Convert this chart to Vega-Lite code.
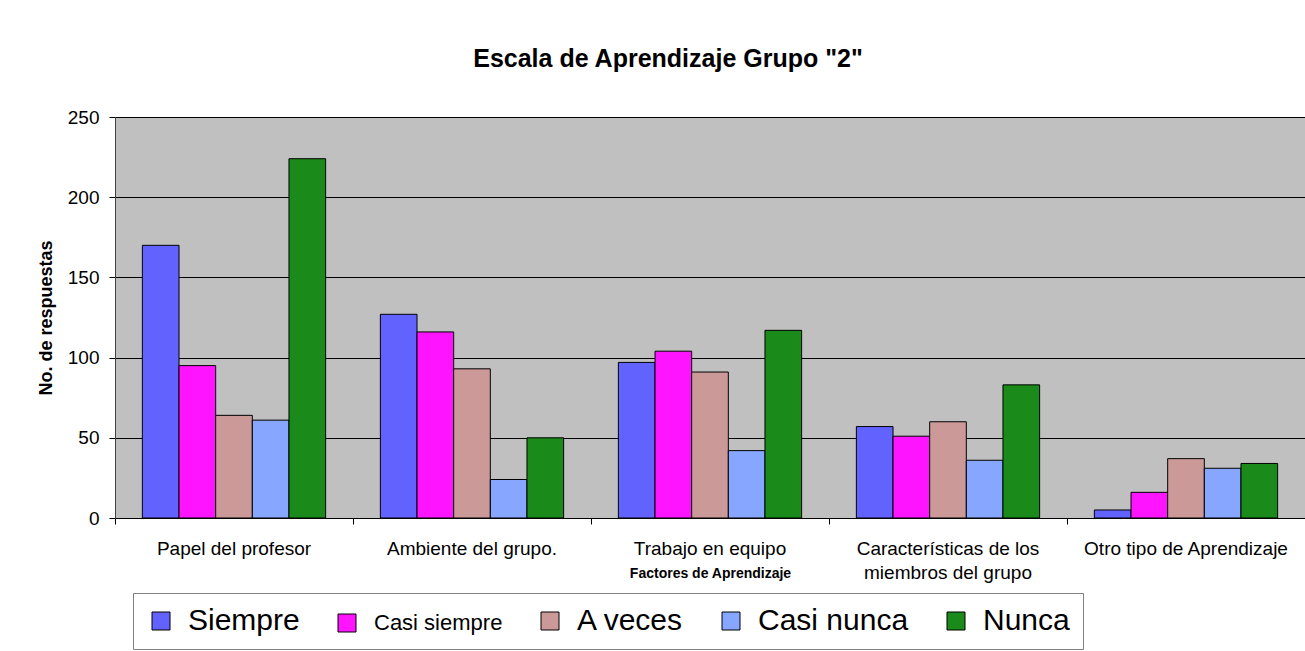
{
  "$schema": "https://vega.github.io/schema/vega-lite/v6.json",
  "width": 1190,
  "height": 401,
  "autosize": {"type": "none"},
  "padding": {"left": 115, "top": 117, "right": 0, "bottom": 133},
  "background": "white",
  "config": {
    "font": "Liberation Sans",
    "view": {"fill": "#C0C0C0", "stroke": "#808080", "strokeWidth": 1}
  },
  "title": {
    "text": "Escala de Aprendizaje Grupo \"2\"",
    "fontSize": 25,
    "fontWeight": "bold",
    "color": "black",
    "anchor": "middle",
    "frame": "group",
    "dx": -42,
    "offset": 16,
    "baseline": "alphabetic"
  },
  "data": {
    "values": [
      {"factor": "Papel del profesor", "respuesta": "Siempre", "valor": 170},
      {"factor": "Papel del profesor", "respuesta": "Casi siempre", "valor": 95},
      {"factor": "Papel del profesor", "respuesta": "A veces", "valor": 64},
      {"factor": "Papel del profesor", "respuesta": "Casi nunca", "valor": 61},
      {"factor": "Papel del profesor", "respuesta": "Nunca", "valor": 224},
      {"factor": "Ambiente del grupo.", "respuesta": "Siempre", "valor": 127},
      {"factor": "Ambiente del grupo.", "respuesta": "Casi siempre", "valor": 116},
      {"factor": "Ambiente del grupo.", "respuesta": "A veces", "valor": 93},
      {"factor": "Ambiente del grupo.", "respuesta": "Casi nunca", "valor": 24},
      {"factor": "Ambiente del grupo.", "respuesta": "Nunca", "valor": 50},
      {"factor": "Trabajo en equipo", "respuesta": "Siempre", "valor": 97},
      {"factor": "Trabajo en equipo", "respuesta": "Casi siempre", "valor": 104},
      {"factor": "Trabajo en equipo", "respuesta": "A veces", "valor": 91},
      {"factor": "Trabajo en equipo", "respuesta": "Casi nunca", "valor": 42},
      {"factor": "Trabajo en equipo", "respuesta": "Nunca", "valor": 117},
      {"factor": "Características de los miembros del grupo", "respuesta": "Siempre", "valor": 57},
      {"factor": "Características de los miembros del grupo", "respuesta": "Casi siempre", "valor": 51},
      {"factor": "Características de los miembros del grupo", "respuesta": "A veces", "valor": 60},
      {"factor": "Características de los miembros del grupo", "respuesta": "Casi nunca", "valor": 36},
      {"factor": "Características de los miembros del grupo", "respuesta": "Nunca", "valor": 83},
      {"factor": "Otro tipo de Aprendizaje", "respuesta": "Siempre", "valor": 5},
      {"factor": "Otro tipo de Aprendizaje", "respuesta": "Casi siempre", "valor": 16},
      {"factor": "Otro tipo de Aprendizaje", "respuesta": "A veces", "valor": 37},
      {"factor": "Otro tipo de Aprendizaje", "respuesta": "Casi nunca", "valor": 31},
      {"factor": "Otro tipo de Aprendizaje", "respuesta": "Nunca", "valor": 34}
    ]
  },
  "mark": {"type": "bar", "stroke": "black", "strokeWidth": 1},
  "encoding": {
    "x": {
      "field": "factor",
      "type": "nominal",
      "sort": null,
      "scale": {"paddingInner": 0.23, "paddingOuter": 0.115},
      "axis": {
        "title": "Factores de Aprendizaje",
        "titleFontSize": 14,
        "titleFontWeight": "bold",
        "titleColor": "black",
        "titleY": 59,
        "titleBaseline": "alphabetic",
        "labelAngle": 0,
        "labelFontSize": 19,
        "labelColor": "black",
        "labelBaseline": "alphabetic",
        "labelPadding": 30,
        "labelLineHeight": 24,
        "labelLimit": 400,
        "labelOverlap": false,
        "labelExpr": "datum.value == 'Características de los miembros del grupo' ? ['Características de los', 'miembros del grupo'] : datum.value",
        "tickSize": 6,
        "tickColor": "black",
        "domainColor": "black",
        "bandPosition": -0.149,
        "grid": false
      }
    },
    "xOffset": {
      "field": "respuesta",
      "type": "nominal",
      "sort": ["Siempre", "Casi siempre", "A veces", "Casi nunca", "Nunca"],
      "scale": {"paddingInner": 0, "paddingOuter": 0}
    },
    "y": {
      "field": "valor",
      "type": "quantitative",
      "scale": {"domain": [0, 250], "nice": false},
      "axis": {
        "title": "No. de respuestas",
        "titleFontSize": 18,
        "titleFontWeight": "bold",
        "titleColor": "black",
        "titlePadding": 12,
        "values": [0, 50, 100, 150, 200, 250],
        "labelFontSize": 19,
        "labelColor": "black",
        "labelPadding": 10,
        "tickSize": 6,
        "tickColor": "black",
        "domainColor": "#404040",
        "gridColor": "black",
        "gridOpacity": 1,
        "gridWidth": 1
      }
    },
    "fill": {
      "field": "respuesta",
      "type": "nominal",
      "scale": {
        "domain": ["Siempre", "Casi siempre", "A veces", "Casi nunca", "Nunca"],
        "range": ["#6262FF", "#FF14FF", "#CC9999", "#86A6FF", "#1A8A1A"]
      },
      "legend": {
        "title": null,
        "orient": "none",
        "legendX": 18,
        "legendY": 476,
        "direction": "horizontal",
        "columns": 5,
        "strokeColor": "#808080",
        "fillColor": "white",
        "padding": 13,
        "symbolType": "square",
        "symbolSize": 324,
        "symbolStrokeColor": "black",
        "symbolStrokeWidth": 1,
        "symbolOpacity": 1,
        "labelFontSize": 30,
        "labelColor": "black",
        "labelOffset": 12,
        "columnPadding": 32,
        "labelLimit": 400,
        "encode": {
          "labels": {
            "update": {
              "fontSize": {"signal": "datum.label === 'Casi siempre' ? 22 : 30"}
            }
          }
        }
      }
    }
  }
}
